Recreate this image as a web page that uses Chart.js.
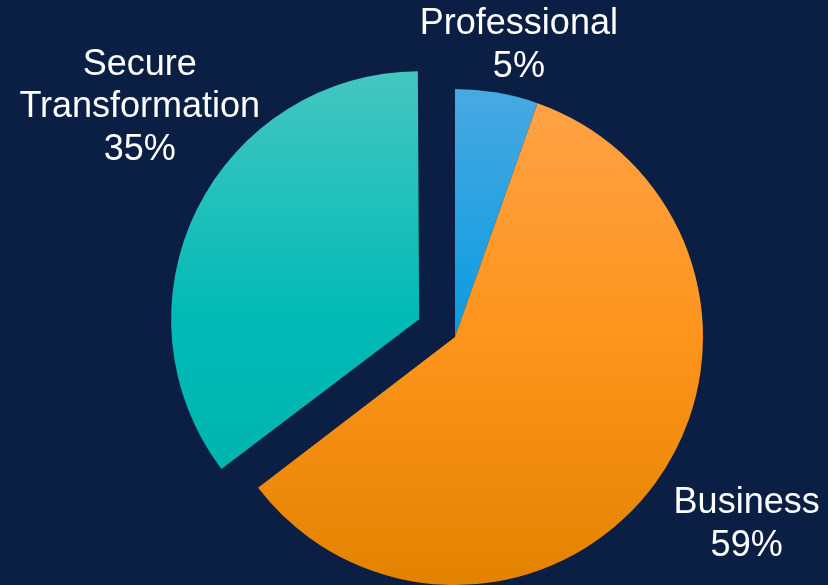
<!DOCTYPE html>
<html>
<head>
<meta charset="utf-8">
<script src="https://cdn.jsdelivr.net/npm/chart.js@4/dist/chart.umd.min.js"></script>
<style>
  html, body { margin: 0; padding: 0; background: #0b1f45; }
  canvas { display: block; }
</style>
</head>
<body>
<canvas id="c" width="828" height="585"></canvas>
<script>
// ---- data ----
const categories = ['Professional', 'Business', 'Secure Transformation'];
const labelLines = [['Professional'], ['Business'], ['Secure', 'Transformation']];
const shares = [5.4, 59.2, 35.4];

// ---- styles ----
const BG = '#0b1f45';
const RADIUS = 248;
const explode = [0, 0, 160]; // Chart.js arc offset (translation = offset / 4)
const gradStops = [
  [[0, '#48a9e2'], [0.5, '#0a9be0'], [1, '#0096d8']],
  [[0, '#ffa247'], [0.5, '#fd951c'], [1, '#e38200']],
  [[0, '#45c6c1'], [0.5, '#00bab5'], [1, '#00b1ac']]
];
const labelNudge = [[22, -50], [91, 39], [-57, -105]];
const FONT_SIZE = 36;
const LINE_H = 42.5;

function sliceFill(ctx) {
  const chart = ctx.chart;
  const area = chart.chartArea;
  const stops = gradStops[ctx.dataIndex];
  if (!area) return stops[1][1];
  const cy = (area.top + area.bottom) / 2;
  const g = chart.ctx.createLinearGradient(0, cy - RADIUS, 0, cy + RADIUS);
  stops.forEach(s => g.addColorStop(s[0], s[1]));
  return g;
}

const bgPlugin = {
  id: 'bg',
  beforeDraw(chart) {
    const c = chart.ctx;
    c.save();
    c.fillStyle = BG;
    c.fillRect(0, 0, chart.width, chart.height);
    c.restore();
  }
};

// keep exploded slice at the same radius as the others
const radiusFix = {
  id: 'radiusFix',
  afterDatasetUpdate(chart, args) {
    const meta = args.meta;
    meta.data.forEach((arc, i) => {
      const off = (explode[i] || 0) / 4;
      if (!off) return;
      const circ = arc.endAngle - arc.startAngle;
      const fix = 1 - Math.sin(Math.min(Math.PI, circ));
      arc.outerRadius = arc.outerRadius - off * fix;
    });
  }
};

const labelPlugin = {
  id: 'sliceLabels',
  afterDatasetsDraw(chart) {
    const c = chart.ctx;
    const meta = chart.getDatasetMeta(0);
    c.save();
    c.fillStyle = '#ffffff';
    c.font = FONT_SIZE + 'px "Liberation Sans", Arial, sans-serif';
    c.textAlign = 'center';
    c.textBaseline = 'alphabetic';
    meta.data.forEach((arc, i) => {
      const mid = (arc.startAngle + arc.endAngle) / 2;
      const off = (explode[i] || 0) / 4;
      const cx = arc.x + Math.cos(mid) * off;
      const cy = arc.y + Math.sin(mid) * off;
      const ax = cx + Math.cos(mid) * RADIUS + labelNudge[i][0];
      const ay = cy + Math.sin(mid) * RADIUS + labelNudge[i][1];
      const lines = labelLines[i].concat([Math.round(shares[i]) + '%']);
      const n = lines.length;
      lines.forEach((t, k) => {
        const y = ay + (k - (n - 1) / 2) * LINE_H + 0.358 * FONT_SIZE;
        c.fillText(t, ax, y);
      });
    });
    c.restore();
  }
};

new Chart(document.getElementById('c'), {
  type: 'pie',
  data: {
    labels: categories,
    datasets: [{
      data: shares,
      backgroundColor: sliceFill,
      borderWidth: 0,
      offset: explode,
      radius: RADIUS,
      clip: false
    }]
  },
  options: {
    responsive: false,
    animation: false,
    events: [],
    layout: { padding: { left: 82, top: 89, right: 0, bottom: 0 } },
    plugins: {
      legend: { display: false },
      tooltip: { enabled: false }
    }
  },
  plugins: [bgPlugin, radiusFix, labelPlugin]
});
</script>
</body>
</html>
